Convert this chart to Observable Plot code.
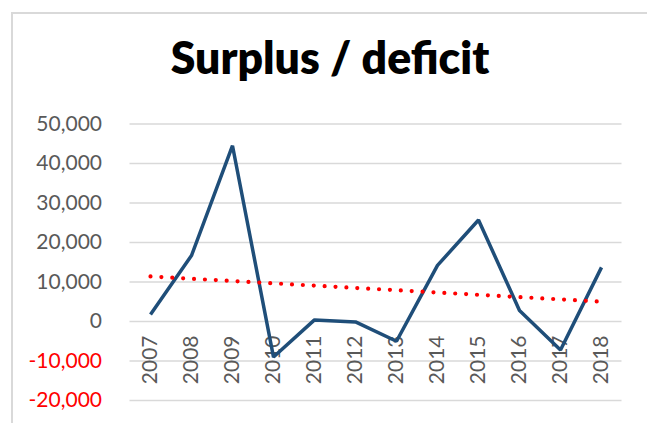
<!DOCTYPE html>
<html>
<head>
<meta charset="utf-8">
<script src="https://cdn.jsdelivr.net/npm/d3@7"></script>
<script src="https://cdn.jsdelivr.net/npm/@observablehq/plot@0.6"></script>
<style>
  html, body { margin: 0; padding: 0; background: #fff; overflow: hidden; }
  #wrap { position: relative; width: 647px; height: 423px; overflow: hidden; }
  #frame { position: absolute; left: 11px; top: 12px; width: 800px; height: 600px;
           border-left: 2px solid #d9d9d9; border-top: 2px solid #d9d9d9; box-sizing: border-box; }
  #title { position: absolute; left: 0; top: 30px; width: 660px; text-align: center;
           font-family: Lato, "Open Sans", sans-serif; font-weight: 800; font-size: 44.5px; color: #000; line-height: 1.2; }
  #chart { position: absolute; left: 0; top: 100px; }
</style>
</head>
<body>
<div id="wrap">
  <div id="frame"></div>
  <div id="title">Surplus / deficit</div>
  <div id="chart"></div>
</div>
<script>
const years = [2007, 2008, 2009, 2010, 2011, 2012, 2013, 2014, 2015, 2016, 2017, 2018];
const values = [1800, 16700, 44500, -9000, 400, -100, -5000, 14200, 25700, 2800, -7200, 13700];
const yTicks = [-20000, -10000, 0, 10000, 20000, 30000, 40000, 50000];

const data = years.map((year, i) => ({year, value: values[i]}));
const fmt = d => (d < 0 ? "-" : "") + d3.format(",")(Math.abs(d));

const chart = Plot.plot({
  width: 647,
  height: 323,
  marginLeft: 129.5,
  marginRight: 25.5,
  marginTop: 23.5,
  marginBottom: 23,
  style: { fontFamily: "Lato, 'Open Sans', sans-serif", background: "transparent", overflow: "visible" },
  x: { type: "linear", domain: [2006.5, 2018.5], axis: null },
  y: { domain: [-20000, 50000], axis: null },
  marks: [
    Plot.ruleY(yTicks, { stroke: "#d9d9d9", strokeWidth: 1.5 }),
    Plot.axisY(yTicks, {
      tickSize: 0, tickPadding: 28, tickFormat: fmt, fontSize: 21,
      fill: d => d < 0 ? "#ff0000" : "#595959", label: null
    }),
    Plot.text(years, {
      x: d => d, y: () => 0, text: d => String(d), rotate: -90,
      textAnchor: "end", dy: 14, fontSize: 21, fill: "#595959"
    }),
    Plot.line(data, { x: "year", y: "value", stroke: "#1f4e79", strokeWidth: 3.5, strokeLinejoin: "miter", strokeLinecap: "butt" }),
    Plot.linearRegressionY(data, {
      x: "year", y: "value", ci: 0, stroke: "#ff0000", strokeWidth: 4.2,
      strokeDasharray: "0 10.9", strokeLinecap: "round", strokeOpacity: 1
    })
  ]
});
document.getElementById("chart").appendChild(chart);
</script>
</body>
</html>
